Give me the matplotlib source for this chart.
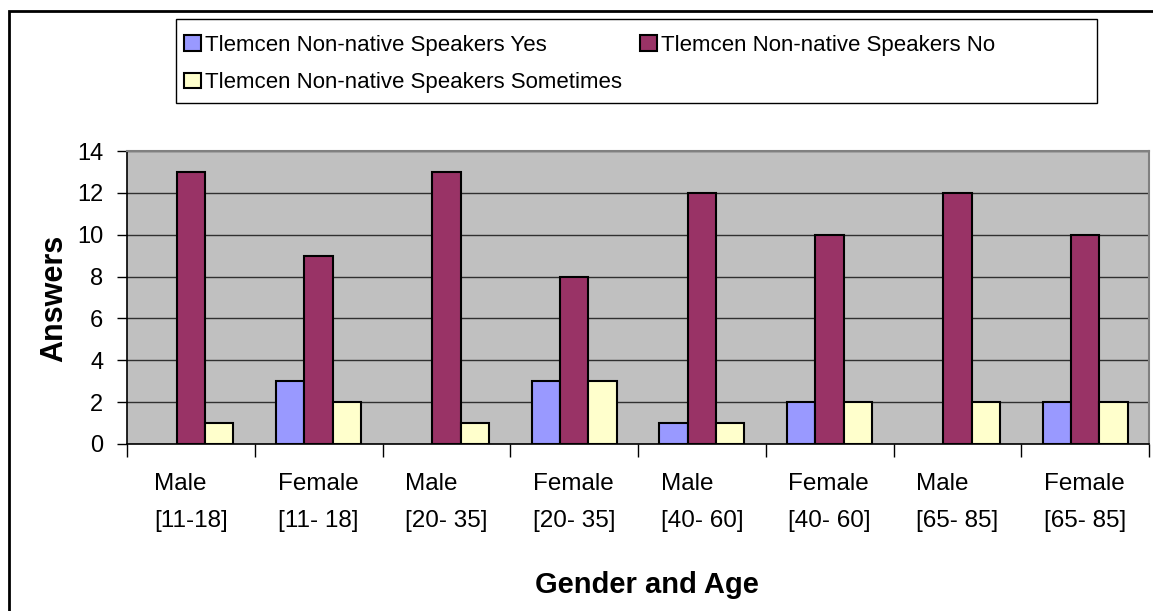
import numpy as np
import matplotlib
matplotlib.use('Agg')
import matplotlib.pyplot as plt
from matplotlib.patches import Rectangle

plt.rcParams['font.family'] = ['Liberation Sans', 'DejaVu Sans']

# Chart data
categories = ['Male\n[11-18]', 'Female\n[11- 18]', 'Male\n[20- 35]', 'Female\n[20- 35]',
              'Male\n[40- 60]', 'Female\n[40- 60]', 'Male\n[65- 85]', 'Female\n[65- 85]']
series_names = ['Tlemcen Non-native Speakers Yes',
                'Tlemcen Non-native Speakers No',
                'Tlemcen Non-native Speakers Sometimes']
yes_vals = [0, 3, 0, 3, 1, 2, 0, 2]
no_vals = [13, 9, 13, 8, 12, 10, 12, 10]
sometimes_vals = [1, 2, 1, 3, 1, 2, 2, 2]
y_ticks = [0, 2, 4, 6, 8, 10, 12, 14]

colors = ['#9999FF', '#993366', '#FFFFCC']

W, H = 1153, 611
fig = plt.figure(figsize=(W / 100, H / 100), dpi=100)

# plot area in pixel coords
left, right, top, bottom = 127, 1149, 151, 444
ax = fig.add_axes([left / W, 1 - bottom / H, (right - left) / W, (bottom - top) / H])
ax.set_facecolor('#C0C0C0')

x = np.arange(len(categories))
bw = 1 / 4.5
bars = []
for i, (vals, c) in enumerate(zip([yes_vals, no_vals, sometimes_vals], colors)):
    b = ax.bar(x + (i - 1) * bw, vals, width=bw, color=c, edgecolor='black',
               linewidth=1.5, zorder=3, label=series_names[i])
    # Excel draws nothing for an empty value
    for rect, v in zip(b, vals):
        if v == 0:
            rect.set_visible(False)
    bars.append(b)

ax.set_xlim(-0.5, len(categories) - 0.5)
ax.set_ylim(0, 14)
ax.set_yticks(y_ticks)
ax.set_yticklabels([str(v) for v in y_ticks], fontsize=17)
ax.yaxis.grid(True, color='#303030', linewidth=1.0, zorder=1)
ax.set_axisbelow(True)

ax.set_xticks(x)
ax.set_xticklabels(categories, fontsize=17.5, linespacing=1.85, multialignment='left')
ax.set_xticks(np.arange(-0.5, len(categories)), minor=True)
ax.tick_params(axis='x', which='major', length=0, pad=21)
ax.tick_params(axis='x', which='minor', length=9, width=1, color='black')
ax.tick_params(axis='y', length=7, width=1, color='black', pad=10)

for s in ['top', 'right']:
    ax.spines[s].set_color('#808080')
    ax.spines[s].set_linewidth(1.5)
for s in ['left', 'bottom']:
    ax.spines[s].set_color('black')
    ax.spines[s].set_linewidth(1.2)

# axis titles
fig.text(54 / W, 1 - 298 / H, 'Answers', rotation=90, fontsize=22, fontweight='bold',
         ha='center', va='center')
fig.text(647 / W, 1 - 585 / H, 'Gender and Age', fontsize=21, fontweight='bold',
         ha='center', va='center')

# legend (row-major order: Yes, No / Sometimes)
handles = [bars[0], bars[2], bars[1]]
labels = [series_names[0], series_names[2], series_names[1]]
leg = fig.legend(handles, labels, loc='center left', ncol=2, frameon=False,
                 bbox_to_anchor=(184 / W, 1 - 64 / H), fontsize=16,
                 handlelength=0.75, handleheight=0.7, handletextpad=0.2,
                 columnspacing=0.8, labelspacing=0.75, borderpad=0, borderaxespad=0)
for h in leg.legend_handles:
    h.set_linewidth(1.5)
    h.set_visible(True)

fig.patches.append(Rectangle((176 / W, 1 - 103 / H), (1097 - 176) / W, (103 - 19) / H,
                             transform=fig.transFigure, fill=False, edgecolor='black',
                             linewidth=1.0))
# outer chart frame (cut off at right and bottom)
fig.patches.append(Rectangle((9 / W, -0.05), 1.2, 1 - 11 / H + 0.05,
                             transform=fig.transFigure, fill=False, edgecolor='black',
                             linewidth=2.0))

fig.savefig('out.png', dpi=100)
